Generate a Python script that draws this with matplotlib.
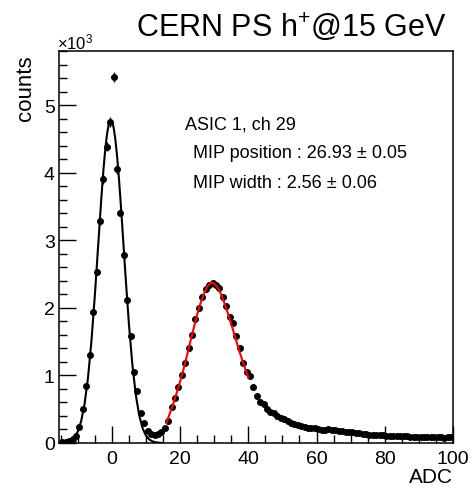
import numpy as np
import matplotlib
matplotlib.use("Agg")
import matplotlib.pyplot as plt
from matplotlib.ticker import MultipleLocator, FuncFormatter

plt.rcParams['font.family'] = ['Liberation Sans', 'DejaVu Sans']
plt.rcParams['mathtext.fontset'] = 'custom'
plt.rcParams['mathtext.rm'] = 'Liberation Sans'
plt.rcParams['mathtext.it'] = 'Liberation Sans:italic'

# histogram: bin centres (ADC) and counts
adc = np.arange(-14.5, 100, 1.0)
counts = [10, 20, 35, 60, 110, 230, 500, 840, 1300, 1940,
          2530, 3290, 3900, 4380, 4750, 5420, 4050, 3410, 2780, 2110,
          1590, 1050, 770, 440, 290, 180, 130, 120, 140, 170,
          220, 330, 540, 670, 830, 1000, 1190, 1400, 1600, 1830,
          2000, 2160, 2280, 2340, 2370, 2340, 2290, 2160, 2020, 1870,
          1770, 1580, 1400, 1190, 1050, 990, 830, 700, 610, 570,
          500, 460, 440, 400, 370, 350, 320, 300, 280, 260,
          245, 232, 225, 220, 215, 210, 195, 190, 200, 195,
          185, 180, 172, 165, 160, 158, 150, 145, 135, 130,
          125, 122, 118, 120, 112, 110, 108, 104, 105, 100,
          98, 102, 95, 92, 96, 90, 88, 85, 90, 84,
          82, 86, 80, 82, 85]
counts = np.array(counts, dtype=float)

# pedestal fit (black)
ped_x = [-15.5, -15, -14, -13, -12, -11, -10, -9, -8, -7,
         -6, -5, -4, -3, -2.5, -2, -1.5, -1, -0.5, 0,
         0.5, 1, 1.5, 2, 2.5, 3, 4, 5, 6, 7,
         8, 9, 10, 11, 12, 13, 14, 15]
ped_y = [1, 2, 6, 15, 37, 82, 168, 324, 579, 965,
         1504, 2178, 2937, 3688, 4024, 4313, 4542, 4697, 4773, 4765,
         4672, 4500, 4260, 3959, 3617, 3244, 2475, 1758, 1165, 718,
         412, 219, 109, 51, 22, 9, 3, 1]

# MIP fit (red)
mip_x = [16, 17, 18, 19, 20, 21, 22, 23, 24, 25, 26, 27, 28, 28.5, 29,
         29.5, 30, 31, 32, 33, 34, 35, 36, 37, 38, 39, 40]
mip_y = [300, 440, 580, 740, 910, 1090, 1290, 1500, 1700, 1900, 2070, 2210,
         2310, 2345, 2365, 2370, 2360, 2300, 2200, 2070, 1920, 1760, 1590,
         1420, 1260, 1110, 970]

W, H = 472, 489
fig = plt.figure(figsize=(W / 100, H / 100), dpi=100)
ax = fig.add_axes([59 / W, 1 - 444 / H, (453 - 59) / W, (444 - 52) / H])

ax.errorbar(adc, counts, yerr=np.sqrt(counts), fmt='o', color='black',
            ms=4.0, elinewidth=1.0, capsize=0, zorder=3)
ax.plot(ped_x, ped_y, color='black', lw=1.5, zorder=2)
ax.plot(mip_x, mip_y, color='red', lw=1.5, zorder=4)

ax.set_xlim(-15.5, 100)
ax.set_ylim(0, 5800)

ax.xaxis.set_major_locator(MultipleLocator(20))
ax.xaxis.set_minor_locator(MultipleLocator(5))
ax.yaxis.set_major_locator(MultipleLocator(1000))
ax.yaxis.set_minor_locator(MultipleLocator(200))
ax.yaxis.set_major_formatter(FuncFormatter(lambda v, p: f"{v / 1000:.0f}"))

ax.tick_params(which='both', direction='in', top=False, right=False, width=1.0)
ax.tick_params(which='major', length=12, labelsize=14)
ax.tick_params(axis='x', which='major', pad=5)
ax.tick_params(axis='y', which='major', pad=3)
ax.tick_params(which='minor', length=6)
for s in ax.spines.values():
    s.set_linewidth(1.1)

fig.text(447 / W, 1 - 27 / H, r'CERN PS h$^{+}$@15 GeV', ha='right', va='center', fontsize=22)
fig.text(57 / W, 1 - 42 / H, '×10$^{3}$', ha='left', va='center', fontsize=12)
fig.text(25 / W, 1 - 55 / H, 'counts', rotation=90, ha='center', va='top', fontsize=16)
fig.text(453 / W, 1 - 478 / H, 'ADC', ha='right', va='center', fontsize=15)

fig.text(185 / W, 1 - 125 / H, 'ASIC 1, ch 29', ha='left', va='center', fontsize=13)
fig.text(193 / W, 1 - 154 / H, 'MIP position : 26.93 ± 0.05', ha='left', va='center', fontsize=13)
fig.text(193 / W, 1 - 183 / H, 'MIP width : 2.56 ± 0.06', ha='left', va='center', fontsize=13)

fig.savefig('out.png', dpi=100)
